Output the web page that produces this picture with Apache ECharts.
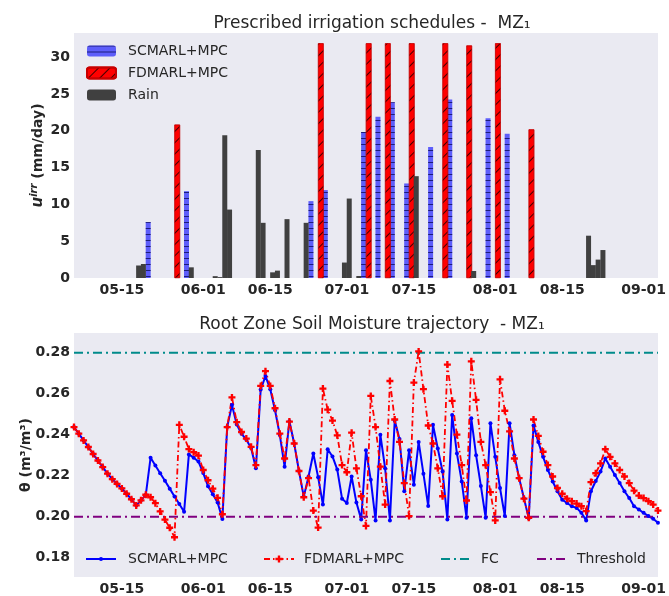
<!DOCTYPE html>
<html><head><meta charset="utf-8">
<script src="https://cdn.jsdelivr.net/npm/echarts@6/dist/echarts.min.js"></script>
<style>html,body{margin:0;padding:0;background:#fff}#c{width:669px;height:596px}</style>
</head><body><div id="c"></div>
<script>
// x axis: day index counted from 05-05 (index 0) to 09-04 (index 122)
const tickDays = [10, 27, 41, 57, 71, 88, 102, 119];
const tickLabels = ['05-15', '06-01', '06-15', '07-01', '07-15', '08-01', '08-15', '09-01'];
const irrTicks = [0, 5, 10, 15, 20, 25, 30];
const thetaTicks = [0.18, 0.20, 0.22, 0.24, 0.26, 0.28];

// Irrigation / rain events (day index, mm/day)
const scIrrDays = [15, 23, 49, 52, 60, 63, 66, 69, 74, 78, 86, 90];
const scIrrMM   = [7.6, 11.8, 10.45, 11.95, 19.85, 21.9, 23.9, 12.85, 17.8, 24.25, 21.7, 19.6];
const fdIrrDays = [21, 51, 61, 65, 70, 77, 82, 88, 95];
const fdIrrMM   = [20.85, 31.9, 31.9, 31.9, 31.9, 31.9, 31.6, 31.9, 20.2];
const rainDays  = [13, 14, 24, 29, 30, 31, 32, 38, 39, 41, 42, 44, 48, 56, 57, 59, 71, 83, 107, 108, 109, 110];
const rainMM    = [1.7, 1.9, 1.45, 0.25, 0.12, 19.4, 9.3, 17.4, 7.5, 0.77, 1.0, 8.0, 7.5, 2.1, 10.8, 0.27, 13.84, 0.95, 5.75, 1.75, 2.5, 3.8];

// Root zone soil moisture, one value per day (index 0..122)
const scMoisture = [
 0.2437,0.2405,0.2372,0.2340,0.2306,0.2274,0.2242,0.2210,0.2183,0.2160,
 0.2138,0.2112,0.2085,0.2055,0.2080,0.2107,0.2288,0.2250,0.2212,0.2175,
 0.2137,0.2099,0.2062,0.2024,0.2304,0.2288,0.2269,0.2213,0.2149,0.2109,
 0.2069,0.1989,0.2437,0.2545,0.2450,0.2405,0.2375,0.2335,0.2236,0.2620,
 0.2686,0.2622,0.2519,0.2398,0.2244,0.2466,0.2357,0.2223,0.2098,0.2196,
 0.2308,0.2193,0.2059,0.2329,0.2294,0.2230,0.2088,0.2067,0.2196,0.2069,
 0.1987,0.2324,0.2180,0.1982,0.2400,0.2236,0.1982,0.2469,0.2379,0.2124,
 0.2324,0.2156,0.2365,0.2210,0.2052,0.2448,0.2333,0.2220,0.1987,0.2496,
 0.2308,0.2172,0.1995,0.2480,0.2300,0.2150,0.1995,0.2456,0.2292,0.2140,
 0.2003,0.2456,0.2300,0.2188,0.2090,0.1992,0.2445,0.2365,0.2292,0.2228,
 0.2172,0.2124,0.2083,0.2067,0.2051,0.2043,0.2019,0.1982,0.2124,0.2174,
 0.2220,0.2284,0.2244,0.2204,0.2164,0.2124,0.2091,0.2051,0.2035,0.2019,
 0.2003,0.1990,0.1971
];
const fdMoisture = [
 0.2437,0.2405,0.2372,0.2340,0.2306,0.2274,0.2242,0.2210,0.2183,0.2160,
 0.2138,0.2112,0.2085,0.2055,0.2080,0.2107,0.2095,0.2066,0.2026,0.1986,
 0.1946,0.1900,0.2448,0.2390,0.2330,0.2315,0.2298,0.2228,0.2178,0.2137,
 0.2092,0.2012,0.2437,0.2582,0.2461,0.2413,0.2381,0.2341,0.2252,0.2638,
 0.2710,0.2638,0.2529,0.2405,0.2284,0.2464,0.2357,0.2223,0.2095,0.2188,
 0.2030,0.1947,0.2625,0.2522,0.2469,0.2397,0.2252,0.2217,0.2410,0.2236,
 0.2100,0.1955,0.2589,0.2437,0.2244,0.2059,0.2662,0.2474,0.2365,0.2164,
 0.2003,0.2654,0.2806,0.2622,0.2445,0.2357,0.2236,0.2100,0.2742,0.2565,
 0.2400,0.2252,0.2079,0.2758,0.2570,0.2365,0.2252,0.2120,0.1982,0.2670,
 0.2517,0.2416,0.2284,0.2188,0.2088,0.1995,0.2474,0.2394,0.2317,0.2252,
 0.2196,0.2140,0.2112,0.2088,0.2076,0.2064,0.2051,0.2027,0.2169,0.2212,
 0.2260,0.2329,0.2292,0.2260,0.2228,0.2196,0.2164,0.2127,0.2103,0.2091,
 0.2076,0.2059,0.2030
];
const fieldCapacity = 0.28;
const threshold = 0.20;

const FONT = 'DejaVu Sans';
const TXT = '#262626';
const lastDay = scMoisture.length - 1;

function xAxisCfg(gridIndex) {
  return {
    type: 'value', gridIndex, min: 0, max: lastDay,
    axisLine: {show: false}, axisTick: {show: false}, splitLine: {show: false},
    axisLabel: {
      customValues: tickDays, margin: 5,
      formatter: v => tickLabels[tickDays.indexOf(v)] || '',
      fontFamily: FONT, fontSize: 14, fontWeight: 'bold', color: TXT
    }
  };
}

const barSeries = (name, days, vals, style, width) => ({
  name, type: 'bar', xAxisIndex: 0, yAxisIndex: 0,
  data: days.map((d, i) => [d + 0.5, vals[i]]),
  barWidth: width, barGap: '-100%', itemStyle: style
});

const legTxt = (pad) => ({fontFamily: FONT, fontSize: 14, color: TXT, padding: [0, 0, 0, pad]});

const option = {
  animation: false,
  backgroundColor: '#ffffff',
  title: [
    {text: 'Prescribed irrigation schedules -  MZ\u2081', left: 367, top: 10, textAlign: 'center',
     textStyle: {fontFamily: FONT, fontSize: 17, fontWeight: 'normal', color: TXT}},
    {text: 'Root Zone Soil Moisture trajectory  - MZ\u2081', left: 367, top: 311, textAlign: 'center',
     textStyle: {fontFamily: FONT, fontSize: 17, fontWeight: 'normal', color: TXT}}
  ],
  grid: [
    {left: 74, right: 9, top: 33, height: 245, show: true, backgroundColor: '#eaeaf2', borderWidth: 0},
    {left: 74, right: 9, top: 333, height: 247, show: true, backgroundColor: '#eaeaf2', borderWidth: 0}
  ],
  xAxis: [xAxisCfg(0), xAxisCfg(1)],
  yAxis: [
    {type: 'value', gridIndex: 0, min: 0, max: 33.3,
     axisLine: {show: false}, axisTick: {show: false}, splitLine: {show: false},
     axisLabel: {customValues: irrTicks, margin: 4, fontFamily: FONT, fontSize: 14, fontWeight: 'bold', color: TXT},
     name: '{i|u}{s|irr}{n| (mm/day)}', nameLocation: 'middle', nameRotate: 90, nameGap: 26,
     nameMoveOverlap: false,
     nameTextStyle: {fontFamily: FONT, color: TXT, rich: {
       i: {fontFamily: FONT, fontStyle: 'italic', fontWeight: 'bold', fontSize: 15, color: TXT},
       s: {fontFamily: FONT, fontStyle: 'italic', fontWeight: 'bold', fontSize: 10, color: TXT, padding: [0, 0, 9, 0]},
       n: {fontFamily: FONT, fontWeight: 'bold', fontSize: 14, color: TXT}}}},
    {type: 'value', gridIndex: 1, min: 0.1706, max: 0.2896,
     axisLine: {show: false}, axisTick: {show: false}, splitLine: {show: false},
     axisLabel: {customValues: thetaTicks, margin: 4, formatter: v => v.toFixed(2),
       fontFamily: FONT, fontSize: 14, fontWeight: 'bold', color: TXT},
     name: '\u03b8 (m\u00b3/m\u00b3)', nameLocation: 'middle', nameRotate: 90, nameGap: 41,
     nameMoveOverlap: false,
     nameTextStyle: {fontFamily: FONT, fontWeight: 'bold', fontSize: 14, color: TXT}}
  ],
  legend: [
    {data: ['SCMARL+MPC', 'FDMARL+MPC', 'Rain'], orient: 'vertical', left: 81, top: 39,
     itemWidth: 29, itemHeight: 11, itemGap: 8, selectedMode: false, textStyle: legTxt(7)},
    {data: [{name: 'SCMARL+MPC '}], left: 80, top: 547, itemWidth: 30, itemHeight: 5,
     selectedMode: false, textStyle: legTxt(7)},
    {data: [{name: 'FDMARL+MPC '}], left: 258, top: 547, itemWidth: 30, itemHeight: 9,
     selectedMode: false, textStyle: legTxt(5)},
    {data: [{name: 'FC', itemStyle: {opacity: 0}}], left: 435, top: 547, itemWidth: 28, itemHeight: 10,
     selectedMode: false, textStyle: legTxt(7)},
    {data: [{name: 'Threshold', itemStyle: {opacity: 0}}], left: 531, top: 547, itemWidth: 28, itemHeight: 10,
     selectedMode: false, textStyle: legTxt(7)}
  ],
  series: [
    barSeries('SCMARL+MPC', scIrrDays, scIrrMM, {
      color: 'rgba(0,0,255,0.6)',
      decal: {symbol: 'rect', symbolSize: 1, color: 'rgba(0,0,70,0.7)', dashArrayX: [1, 0], dashArrayY: [1, 5], rotation: 0}
    }, 5),
    barSeries('FDMARL+MPC', fdIrrDays, fdIrrMM, {
      color: '#ff0000', borderColor: '#c80000', borderWidth: 0.6,
      decal: {symbol: 'rect', symbolSize: 1, color: 'rgba(0,0,0,0.75)', dashArrayX: [1, 0], dashArrayY: [1, 7], rotation: -Math.PI / 4}
    }, 5.6),
    barSeries('Rain', rainDays, rainMM, {color: '#404040'}, 5),
    {name: 'SCMARL+MPC ', type: 'line', xAxisIndex: 1, yAxisIndex: 1,
     data: scMoisture.map((v, i) => [i, v]),
     symbol: 'circle', symbolSize: 4, showSymbol: true,
     lineStyle: {color: '#0000ff', width: 2}, itemStyle: {color: '#0000ff'}},
    {name: 'FDMARL+MPC ', type: 'line', xAxisIndex: 1, yAxisIndex: 1,
     data: fdMoisture.map((v, i) => [i, v]),
     symbol: 'path://M2,0H4V2H6V4H4V6H2V4H0V2H2Z', symbolSize: 7, showSymbol: true,
     lineStyle: {color: '#ff0000', width: 1.8, type: [6, 3, 1.5, 3]}, itemStyle: {color: '#ff0000'}},
    {name: 'FC', type: 'line', xAxisIndex: 1, yAxisIndex: 1,
     data: [[0, fieldCapacity], [lastDay, fieldCapacity]], symbol: 'none',
     lineStyle: {color: '#008b8b', width: 2, type: [9, 4, 2, 4]}, itemStyle: {color: '#008b8b'}},
    {name: 'Threshold', type: 'line', xAxisIndex: 1, yAxisIndex: 1,
     data: [[0, threshold], [lastDay, threshold]], symbol: 'none',
     lineStyle: {color: '#800080', width: 2, type: [9, 4, 2, 4]}, itemStyle: {color: '#800080'}}
  ]
};
const chart = echarts.init(document.getElementById('c'), null, {renderer: 'canvas'});
chart.setOption(option);
</script>
</body></html>
